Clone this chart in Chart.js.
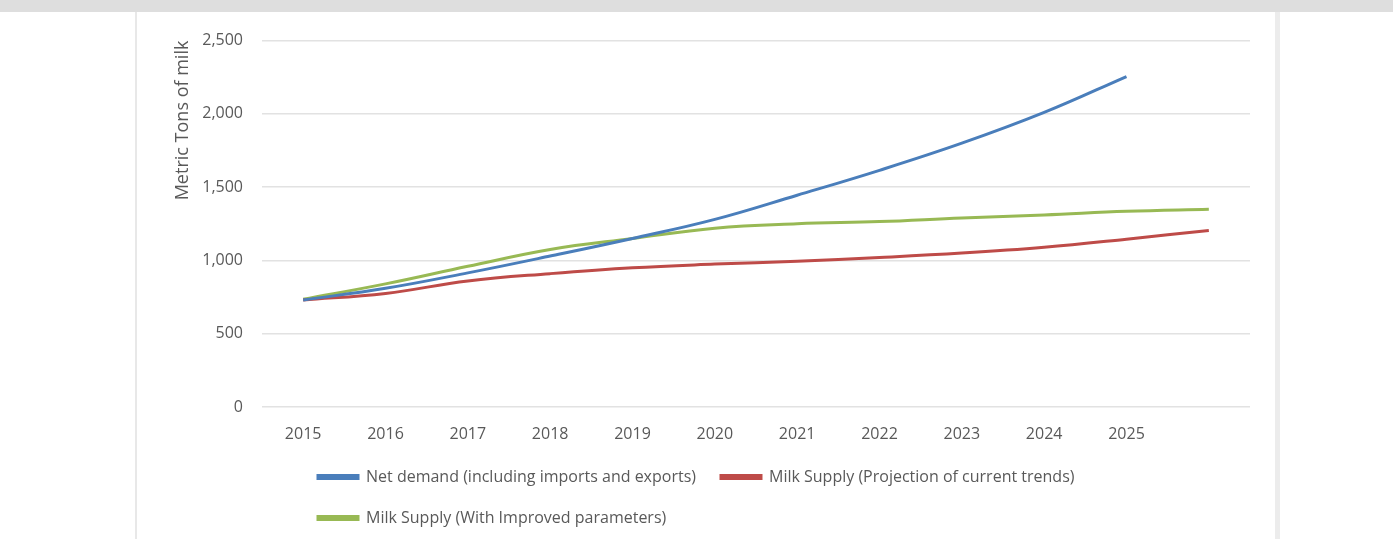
<!DOCTYPE html>
<html>
<head>
<meta charset="utf-8">
<script src="https://cdn.jsdelivr.net/npm/chart.js@4.4.1/dist/chart.umd.min.js"></script>
<style>
  body { margin: 0; background: #fff; width: 1393px; height: 539px; overflow: hidden; position: relative; }
  #topband { position: absolute; left: 0; top: 0; width: 1393px; height: 12px; background: #dedede; }
  #leftline { position: absolute; left: 135px; top: 12px; width: 2px; height: 527px; background: #e8e8e8; }
  #rightline { position: absolute; left: 1275px; top: 12px; width: 5px; height: 527px; background: #ececec; }
  #wrap { position: absolute; left: 138px; top: 12px; width: 1137px; height: 527px; }
</style>
</head>
<body>
<div id="topband"></div>
<div id="leftline"></div>
<div id="rightline"></div>
<div id="wrap"><canvas id="line-chart"></canvas></div>
<script>
// years (last point has no label in the original)
var years = ['2015','2016','2017','2018','2019','2020','2021','2022','2023','2024','2025',''];

var netDemand = [730, 810, 915, 1030, 1150, 1280, 1445, 1615, 1800, 2010, 2255, null];
var supplyTrend = [730, 775, 860, 910, 950, 975, 995, 1020, 1050, 1090, 1145, 1205];
var supplyImproved = [735, 840, 960, 1075, 1150, 1220, 1250, 1265, 1290, 1310, 1335, 1350];

var yTicks = [0, 500, 1000, 1500, 2000, 2500];

var txt = '#595959';
var fnt = '"Open Sans", sans-serif';

// legend starts further right in the original
var moveLegend = {
  id: 'moveLegend',
  afterLayout: function(chart) {
    chart.legend.left += 125;
  }
};

new Chart(document.getElementById('line-chart'), {
  type: 'line',
  data: {
    labels: years,
    datasets: [
      { label: 'Net demand (including imports and exports)', data: netDemand,
        borderColor: '#4a7ebb', backgroundColor: '#4a7ebb' },
      { label: 'Milk Supply (Projection of current trends)', data: supplyTrend,
        borderColor: '#be4b48', backgroundColor: '#be4b48' },
      { label: 'Milk Supply (With Improved parameters)', data: supplyImproved,
        borderColor: '#98b954', backgroundColor: '#98b954' }
    ]
  },
  options: {
    responsive: true,
    maintainAspectRatio: false,
    animation: false,
    layout: { padding: { left: 30, right: 25, top: 25, bottom: 3 } },
    elements: {
      line: { borderWidth: 3, tension: 0.4 },
      point: { radius: 0 }
    },
    scales: {
      x: {
        offset: true,
        grid: { display: false },
        border: { display: false },
        ticks: { color: txt, font: { family: fnt, size: 16 }, padding: 10, maxRotation: 0, autoSkip: false },
        afterFit: function(s) { s.height = 37; }
      },
      y: {
        min: 0, max: 2500,
        afterBuildTicks: function(s) { s.ticks = yTicks.map(function(v) { return { value: v }; }); },
        grid: { color: '#e2e2e2', lineWidth: 1.5, drawTicks: false },
        border: { display: false },
        ticks: { color: txt, font: { family: fnt, size: 16 }, padding: 19,
                 callback: function(v) { return v.toLocaleString('en-US'); } },
        title: { display: true, text: 'Metric Tons of milk', align: 'end', color: txt,
                 font: { family: fnt, size: 18 } },
        afterFit: function(s) { s.width = 94; }
      }
    },
    plugins: {
      legend: {
        position: 'bottom',
        align: 'start',
        labels: { color: txt, font: { family: fnt, size: 16 }, boxWidth: 40, boxHeight: 3, padding: 25 }
      },
      tooltip: { enabled: false }
    }
  },
  plugins: [moveLegend]
});
</script>
</body>
</html>
